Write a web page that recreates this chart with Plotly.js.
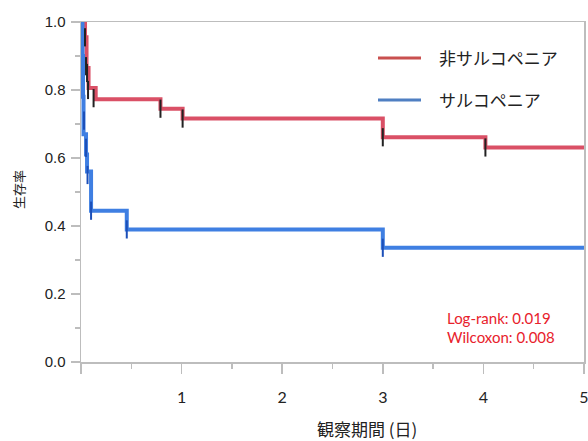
<!DOCTYPE html>
<html><head><meta charset="utf-8">
<script src="https://cdn.plot.ly/plotly-3.0.1.min.js"></script>
<style>html,body{margin:0;padding:0;background:#fff;}#chart{width:588px;height:441px;}</style>
</head><body><div id="chart"></div>
<script>
// Kaplan-Meier step data
const nonSarcoTime = [0, 0.04, 0.055, 0.075, 0.146, 0.79, 1.01, 3.0, 4.02, 5.0];
const nonSarcoSurv = [1.0, 0.955, 0.865, 0.806, 0.773, 0.745, 0.716, 0.661, 0.631, 0.631];
const nonSarcoCensTime = [0.04, 0.05, 0.06, 0.07, 0.125, 0.79, 1.01, 3.0, 4.02];
const nonSarcoCensSurv = [0.955, 0.87, 0.85, 0.80, 0.776, 0.745, 0.716, 0.661, 0.631];

const sarcoTime = [0, 0.015, 0.02, 0.025, 0.05, 0.06, 0.1, 0.455, 3.0, 5.0];
const sarcoSurv = [1.0, 0.9, 0.78, 0.67, 0.61, 0.56, 0.445, 0.39, 0.336, 0.336];
const sarcoCensTime = [0.03, 0.05, 0.065, 0.1, 0.455, 3.0];
const sarcoCensSurv = [0.71, 0.63, 0.55, 0.445, 0.39, 0.336];

const seriesNames = ['非サルコペニア', 'サルコペニア'];
const xTickVals = [0, 1, 2, 3, 4, 5];
const xTickText = ['', '1', '2', '3', '4', '5'];
const yTickVals = [0, 0.2, 0.4, 0.6, 0.8, 1.0];
const yTickText = ['0.0', '0.2', '0.4', '0.6', '0.8', '1.0'];
const pValueLines = ['Log-rank: 0.019', 'Wilcoxon: 0.008'];

const RED = '#da5066', BLUE = '#3f7fe2';

const traces = [
  {x: nonSarcoTime, y: nonSarcoSurv, mode: 'lines', line: {shape: 'hv', color: RED, width: 4}, name: seriesNames[0], showlegend: false},
  {x: sarcoTime, y: sarcoSurv, mode: 'lines', line: {shape: 'hv', color: BLUE, width: 4}, name: seriesNames[1], showlegend: false},
  {x: nonSarcoCensTime, y: nonSarcoCensSurv, mode: 'markers', marker: {symbol: 'line-ns', size: 13, line: {color: '#222', width: 2}}, showlegend: false, hoverinfo: 'skip'},
  {x: sarcoCensTime, y: sarcoCensSurv, mode: 'markers', marker: {symbol: 'line-ns', size: 13, line: {color: '#1c4fb8', width: 2}}, showlegend: false, hoverinfo: 'skip'}
];

const layout = {
  width: 588, height: 441,
  margin: {l: 81, r: 4, t: 22, b: 79},
  paper_bgcolor: '#fff', plot_bgcolor: '#fff',
  showlegend: false,
  xaxis: {
    range: [0, 5], showgrid: false, zeroline: false,
    showline: true, linecolor: '#bdbdbd', linewidth: 1.5, mirror: true,
    tickvals: xTickVals, ticktext: xTickText,
    ticks: 'outside', ticklen: 10, tickcolor: '#bdbdbd', tickwidth: 1.5,
    minor: {dtick: 0.5, tick0: 0, ticks: 'outside', ticklen: 5, tickcolor: '#bdbdbd', tickwidth: 1.5},
    ticklabelstandoff: 10,
    ticklabeloverflow: 'allow',
    tickfont: {family: 'Lato, "Open Sans", sans-serif', size: 16, color: '#222'}
  },
  yaxis: {
    range: [0, 1.0], showgrid: false, zeroline: false,
    showline: true, linecolor: '#bdbdbd', linewidth: 1.5, mirror: true,
    tickvals: yTickVals, ticktext: yTickText,
    ticks: 'outside', ticklen: 9, tickcolor: '#bdbdbd', tickwidth: 1.5,
    minor: {dtick: 0.1, tick0: 0, ticks: 'outside', ticklen: 5, tickcolor: '#bdbdbd', tickwidth: 1.5},
    ticklabelstandoff: 2,
    tickfont: {family: '"Liberation Sans", Arial, sans-serif', size: 15, color: '#222'}
  },
  shapes: [
    {type: 'line', xref: 'paper', yref: 'paper', x0: (378-81)/503, x1: (421-81)/503, y0: (362-58)/340, y1: (362-58)/340, line: {color: '#c9504f', width: 3}},
    {type: 'line', xref: 'paper', yref: 'paper', x0: (378-81)/503, x1: (421-81)/503, y0: (362-100)/340, y1: (362-100)/340, line: {color: '#4f7fc2', width: 3}}
  ],
  annotations: [
    {xref: 'paper', yref: 'paper', x: (437-81)/503, y: (362-58)/340, xanchor: 'left', yanchor: 'middle', showarrow: false, text: seriesNames[0], font: {family: '"Noto Sans CJK JP", sans-serif', size: 17, color: '#222'}},
    {xref: 'paper', yref: 'paper', x: (437-81)/503, y: (362-100)/340, xanchor: 'left', yanchor: 'middle', showarrow: false, text: seriesNames[1], font: {family: '"Noto Sans CJK JP", sans-serif', size: 17, color: '#222'}},
    {xref: 'paper', yref: 'paper', x: (445-81)/503, y: (362-318)/340, xanchor: 'left', yanchor: 'middle', showarrow: false, text: pValueLines[0], font: {family: 'Lato, sans-serif', size: 15, color: '#e8212b'}},
    {xref: 'paper', yref: 'paper', x: (445-81)/503, y: (362-337)/340, xanchor: 'left', yanchor: 'middle', showarrow: false, text: pValueLines[1], font: {family: 'Lato, sans-serif', size: 15, color: '#e8212b'}},
    {xref: 'paper', yref: 'paper', x: (367-81)/503, y: (362-428)/340, xanchor: 'center', yanchor: 'middle', showarrow: false, text: '観察期間 (日)', font: {family: '"Noto Sans CJK JP", sans-serif', size: 17, color: '#222'}},
    {xref: 'paper', yref: 'paper', x: (18-81)/503, y: (362-190)/340, xanchor: 'center', yanchor: 'middle', showarrow: false, textangle: -90, text: '生存率', font: {family: '"Noto Sans CJK JP", sans-serif', size: 13, color: '#222'}}
  ]
};

Plotly.newPlot('chart', traces, layout, {displayModeBar: false, staticPlot: true});
</script></body></html>
